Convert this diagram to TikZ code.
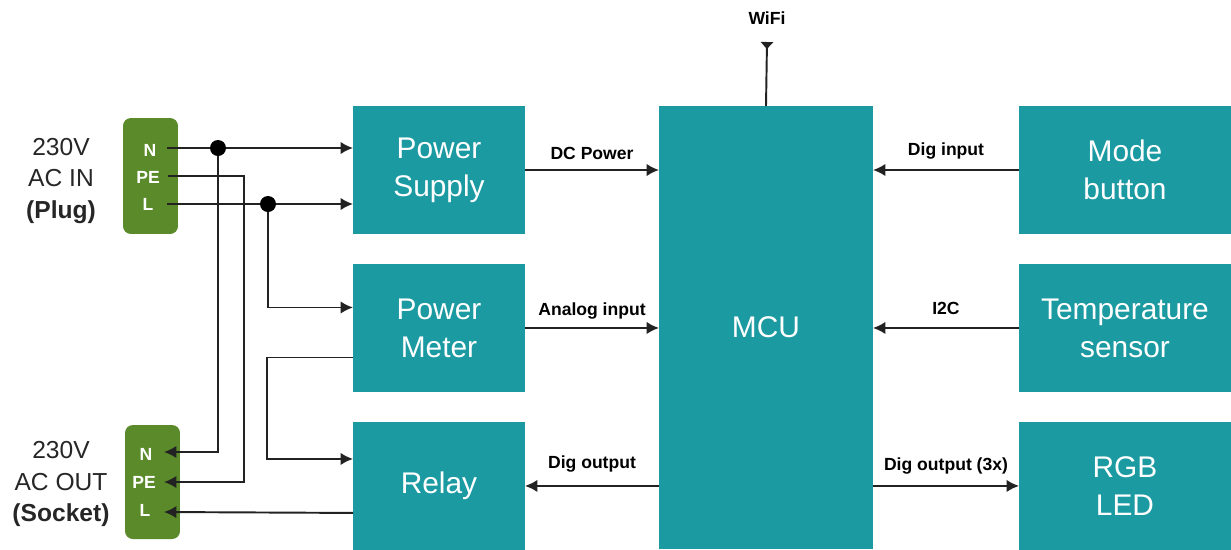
\documentclass[tikz,border=0pt]{standalone}
\usepackage{fontspec}
\setmainfont{Liberation Sans}
\usepackage{tikz}
\usetikzlibrary{arrows.meta,positioning,calc}
\definecolor{boxteal}{HTML}{1B9AA2}
\definecolor{plugolive}{HTML}{5A8A2A}
\definecolor{wiregray}{HTML}{222222}
\tikzset{
  blockbox/.style={
    fill=boxteal,
    text=white,
    align=center,
    minimum width=3.44cm,
    minimum height=2.56cm,
    inner sep=0pt,
    outer sep=0pt,
    font=\fontsize{17}{21.6}\selectfont
  },
  blockbox2/.style={
    blockbox,
    minimum width=4.24cm
  },
  plugbox/.style={
    fill=plugolive,
    rounded corners=4.5pt,
    minimum width=1.1cm,
    outer sep=0pt
  },
  pinlabel/.style={
    text=white,
    inner sep=0pt,
    font=\bfseries\fontsize{10}{12}\selectfont
  },
  sidelabel/.style={
    align=center,
    text=black!85,
    font=\fontsize{14}{18}\selectfont
  },
  linklabel/.style={
    inner sep=0pt,
    font=\bfseries\fontsize{10}{12}\selectfont
  },
  junction/.style={
    circle,
    fill=black,
    minimum size=0.32cm,
    inner sep=0pt
  },
  wire/.style={
    line width=1.1pt,
    draw=wiregray
  },
  flowarrow/.style={
    wire,
    -{Latex[length=7pt,width=7pt]}
  }
}

\begin{document}
\begin{tikzpicture}[x=0.02cm, y=-0.02cm]
    \useasboundingbox (0,0) rectangle (1231,549);

    % blocks
    \node[blockbox] (supply) at (439,170) {Power\\Supply};
    \node[blockbox, below=0.6cm of supply] (meter) {Power\\Meter};
    \node[blockbox, below=0.6cm of meter] (relay) {Relay};
    \node[blockbox, minimum width=4.28cm, minimum height=8.86cm] (mcu) at (766,327.5) {MCU};
    \node[blockbox2] (mode) at (1125,170) {Mode\\button};
    \node[blockbox2, below=0.6cm of mode] (temp) {Temperature\\sensor};
    \node[blockbox2, below=0.6cm of temp] (led) {RGB\\LED};

    % plug and socket
    \node[plugbox, minimum height=2.32cm] (plug) at (150.5,176) {};
    \node[pinlabel] (plugN) at (150,150) {N};
    \node[pinlabel] (plugPE) at (148,177) {PE};
    \node[pinlabel] (plugL) at (148,204) {L};
    \node[plugbox, minimum height=2.28cm] (socket) at (152.5,482) {};
    \node[pinlabel] (sockN) at (146,454) {N};
    \node[pinlabel] (sockPE) at (144,482) {PE};
    \node[pinlabel] (sockL) at (145,510) {L};
    \node[sidelabel] (plugtxt) at (61,181) {230V\\AC IN\\\textbf{(Plug)}};
    \node[sidelabel] (socktxt) at (61,484) {230V\\AC OUT\\\textbf{(Socket)}};

    % wire ends and bends
    \coordinate (nIn) at (167,148);
    \coordinate (peIn) at (168,176);
    \coordinate (lIn) at (167,204);
    \coordinate (jN) at (218,148);
    \coordinate (jL) at (268,204);
    \coordinate (peBend) at (244,176);
    \coordinate (nOut) at (164,452);
    \coordinate (peOut) at (164,482);
    \coordinate (lOut) at (164,512);
    \coordinate (ant) at (767,42);

    % mains wiring
    \draw[flowarrow] (nIn) -- (jN -| supply.west);
    \draw[flowarrow] (lIn) -- (jL -| supply.west);
    \draw[flowarrow] (jN) |- (nOut);
    \draw[flowarrow] (peIn) -- (peBend) |- (peOut);
    \draw[flowarrow] (jL) |- ($(meter.west)+(0,-20.5)$);
    \draw[flowarrow] ($(meter.west)+(0,29.5)$) -- ++(-86,0) |- ($(relay.west)+(0,-27)$);
    \draw[flowarrow] ($(relay.west)+(0,27)$) -- (lOut);

    % signals to and from the MCU
    \draw[flowarrow] (supply.east) -- (supply.east -| mcu.west)
        node[linklabel, midway, above=5.5pt] (dcLabel) {DC Power};
    \draw[flowarrow] (meter.east) -- (meter.east -| mcu.west)
        node[linklabel, midway, above=4.5pt] (analogLabel) {Analog input};
    \draw[flowarrow] (mcu.west |- relay.east) -- (relay.east)
        node[linklabel, midway, above=7pt] (relayLabel) {Dig output};
    \draw[flowarrow] (mode.west) -- (mode.west -| mcu.east)
        node[linklabel, midway, above=5.5pt] (modeLabel) {Dig input};
    \draw[flowarrow] (temp.west) -- (temp.west -| mcu.east)
        node[linklabel, midway, above=7pt] (tempLabel) {I2C};
    \draw[flowarrow] (mcu.east |- led.west) -- (led.west)
        node[linklabel, midway, above=6pt] (ledLabel) {Dig output (3x)};
    \draw[wire, -{Triangle[reversed, length=4pt, width=7pt]}] (mcu.north) -- (ant);
    \node[linklabel] (wifi) at (767,18) {WiFi};

    % junction dots
    \node[junction] (dotN) at (jN) {};
    \node[junction] (dotL) at (jL) {};
\end{tikzpicture}
\end{document}
